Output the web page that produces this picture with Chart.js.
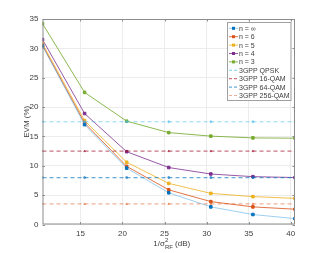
<!DOCTYPE html>
<html>
<head>
<meta charset="utf-8">
<script src="https://cdn.jsdelivr.net/npm/chart.js@4.4.1/dist/chart.umd.min.js"></script>
<style>
  html, body { margin: 0; padding: 0; background: #fff; }
  #wrap { width: 326px; height: 253px; position: relative; }
</style>
</head>
<body>
<div id="wrap"><canvas id="evmChart"></canvas></div>
<script>
// valores
const snrDb = [10.5, 15.5, 20.5, 25.5, 30.5, 35.5, 40.5];
const xTicks = [15, 20, 25, 30, 35, 40];

const evmInf = [30.4, 17.0, 9.6, 5.4, 3.0, 1.7, 1.0];
const evmN6  = [30.5, 17.3, 9.9, 5.9, 3.9, 3.0, 2.6];
const evmN5  = [30.8, 17.7, 10.6, 7.0, 5.3, 4.75, 4.45];
const evmN4  = [31.5, 18.9, 12.4, 9.7, 8.6, 8.15, 8.0];
const evmN3  = [34.2, 22.5, 17.6, 15.65, 15.05, 14.75, 14.7];

const evmQpsk   = [17.5, 17.5, 17.5, 17.5, 17.5, 17.5, 17.5];
const evm16qam  = [12.5, 12.5, 12.5, 12.5, 12.5, 12.5, 12.5];
const evm64qam  = [8, 8, 8, 8, 8, 8, 8];
const evm256qam = [3.5, 3.5, 3.5, 3.5, 3.5, 3.5, 3.5];

const seriesNames = ['n = \u221E', 'n = 6', 'n = 5', 'n = 4', 'n = 3',
  '3GPP QPSK', '3GPP 16-QAM', '3GPP 64-QAM', '3GPP 256-QAM'];

// colores por defecto de MATLAB
const colBlue = '#0072BD', colOrange = '#D95319', colYellow = '#EDB120',
      colPurple = '#7E2F8E', colGreen = '#77AC30', colCyan = '#4DBEEE', colRed = '#A2142F';

function toPoints(ys) {
  return snrDb.map((x, i) => ({ x: x, y: ys[i] }));
}

function solidSet(label, ys, color, lineColor) {
  return {
    label: label,
    data: toPoints(ys),
    borderColor: lineColor || color,
    backgroundColor: color,
    pointBorderColor: color,
    pointBackgroundColor: color,
    borderWidth: 1,
    pointStyle: 'rect',
    pointRadius: 1.8,
    tension: 0,
    order: 1
  };
}

function dashedSet(label, ys, color, lineColor, marker) {
  return {
    label: label,
    data: toPoints(ys),
    borderColor: lineColor,
    backgroundColor: color,
    pointBorderColor: lineColor,
    pointBackgroundColor: lineColor,
    borderWidth: 1.2,
    borderDash: [4, 3],
    pointStyle: marker,
    pointRadius: 1.1,
    pointBorderWidth: 0.8,
    tension: 0,
    order: 0
  };
}

const datasets = [
  solidSet(seriesNames[0], evmInf, colBlue, 'rgba(77,170,230,0.55)'),
  solidSet(seriesNames[1], evmN6, colOrange, 'rgba(217,83,25,0.8)'),
  solidSet(seriesNames[2], evmN5, colYellow, 'rgba(237,177,32,0.8)'),
  solidSet(seriesNames[3], evmN4, colPurple, 'rgba(126,47,142,0.8)'),
  solidSet(seriesNames[4], evmN3, colGreen, 'rgba(119,172,48,0.85)'),
  dashedSet(seriesNames[5], evmQpsk, colCyan, 'rgba(77,190,238,0.6)', 'circle'),
  dashedSet(seriesNames[6], evm16qam, colRed, 'rgba(162,20,47,0.6)', 'triangle'),
  dashedSet(seriesNames[7], evm64qam, colBlue, 'rgba(0,114,189,0.6)', 'circle'),
  dashedSet(seriesNames[8], evm256qam, colOrange, 'rgba(217,83,25,0.45)', 'triangle')
];

const textColor = '#404040';
const boxColor = '#8c8c8c';
const fontFam = '"Liberation Sans", Arial, sans-serif';

// marco, marcas interiores, títulos de ejes y leyenda
const matlabAxes = {
  id: 'matlabAxes',
  afterDraw(chart) {
    const ctx = chart.ctx;
    const a = chart.chartArea;
    const xs = chart.scales.x, ys = chart.scales.y;
    ctx.save();
    ctx.strokeStyle = boxColor;
    ctx.lineWidth = 1;
    ctx.strokeRect(a.left + 0.5, a.top + 0.5, a.right - a.left - 1, a.bottom - a.top - 1);
    ctx.beginPath();
    xTicks.forEach(t => {
      const px = Math.round(xs.getPixelForValue(t)) + 0.5;
      ctx.moveTo(px, a.bottom); ctx.lineTo(px, a.bottom - 2.5);
      ctx.moveTo(px, a.top); ctx.lineTo(px, a.top + 2.5);
    });
    for (let v = 0; v <= 35; v += 5) {
      const py = Math.round(ys.getPixelForValue(v)) + 0.5;
      ctx.moveTo(a.left, py); ctx.lineTo(a.left + 2.5, py);
      ctx.moveTo(a.right, py); ctx.lineTo(a.right - 2.5, py);
    }
    ctx.stroke();

    // título eje y
    ctx.fillStyle = textColor;
    ctx.save();
    ctx.translate(27, (a.top + a.bottom) / 2);
    ctx.rotate(-Math.PI / 2);
    ctx.font = '8px ' + fontFam;
    ctx.textAlign = 'center';
    ctx.textBaseline = 'middle';
    ctx.fillText('EVM (%)', 0, 0);
    ctx.restore();

    // título eje x: 1/σ²_RF (dB)
    ctx.textBaseline = 'alphabetic';
    ctx.textAlign = 'left';
    const big = '8px ' + fontFam;
    const small = '6px ' + fontFam;
    const baseY = 246;
    ctx.font = big;
    const w1 = ctx.measureText('1/\u03C3').width, w2 = ctx.measureText(' (dB)').width;
    ctx.font = small;
    const wSub = Math.max(ctx.measureText('2').width, ctx.measureText('RF').width);
    let cx = (a.left + a.right) / 2 - (w1 + w2 + wSub) / 2 + 3;
    ctx.font = big; ctx.fillText('1/\u03C3', cx, baseY); cx += w1;
    ctx.font = small; ctx.fillText('2', cx, baseY - 4); ctx.fillText('RF', cx, baseY + 2.5);
    cx += wSub;
    ctx.font = big; ctx.fillText(' (dB)', cx, baseY);

    // leyenda
    const lx = 227, ly = 22, lw = 63.5, lh = 78, rowH = 8.4;
    ctx.fillStyle = '#ffffff';
    ctx.fillRect(lx, ly, lw, lh);
    ctx.strokeStyle = '#a0a0a0';
    ctx.strokeRect(lx + 0.5, ly + 0.5, lw, lh);
    ctx.font = '7px ' + fontFam;
    ctx.textBaseline = 'middle';
    chart.data.datasets.forEach((ds, i) => {
      const ry = ly + 6.3 + i * rowH;
      ctx.save();
      ctx.strokeStyle = ds.borderColor;
      ctx.lineWidth = ds.borderWidth;
      ctx.setLineDash(ds.borderDash ? [3, 2] : []);
      ctx.beginPath();
      ctx.moveTo(lx + 2, ry); ctx.lineTo(lx + 11, ry);
      ctx.stroke();
      ctx.restore();
      if (i < 5) {
        ctx.fillStyle = ds.pointBackgroundColor;
        ctx.fillRect(lx + 5, ry - 1.5, 3, 3);
      }
      ctx.fillStyle = textColor;
      ctx.fillText(ds.label, lx + 12, ry + 0.5);
    });
    ctx.restore();
  }
};

new Chart(document.getElementById('evmChart'), {
  type: 'line',
  data: { datasets: datasets },
  options: {
    responsive: true,
    maintainAspectRatio: false,
    animation: false,
    layout: { padding: { top: 19, right: 31, left: 0, bottom: 0 } },
    plugins: {
      legend: { display: false },
      tooltip: { enabled: false }
    },
    scales: {
      x: {
        type: 'linear',
        min: 10.5,
        max: 40.5,
        afterBuildTicks: (axis) => { axis.ticks = xTicks.map(v => ({ value: v })); },
        afterFit: (axis) => { axis.height = 28.5; },
        grid: { color: '#ececec', drawTicks: false, lineWidth: 1 },
        border: { display: false },
        ticks: { color: textColor, padding: 4, font: { size: 8, family: fontFam }, maxRotation: 0 }
      },
      y: {
        min: 0,
        max: 35,
        afterFit: (axis) => { axis.width = 42.5; },
        grid: { color: '#ececec', drawTicks: false, lineWidth: 1 },
        border: { display: false },
        ticks: { stepSize: 5, color: textColor, padding: 4, font: { size: 8, family: fontFam } }
      }
    }
  },
  plugins: [matlabAxes]
});
</script>
</body>
</html>
